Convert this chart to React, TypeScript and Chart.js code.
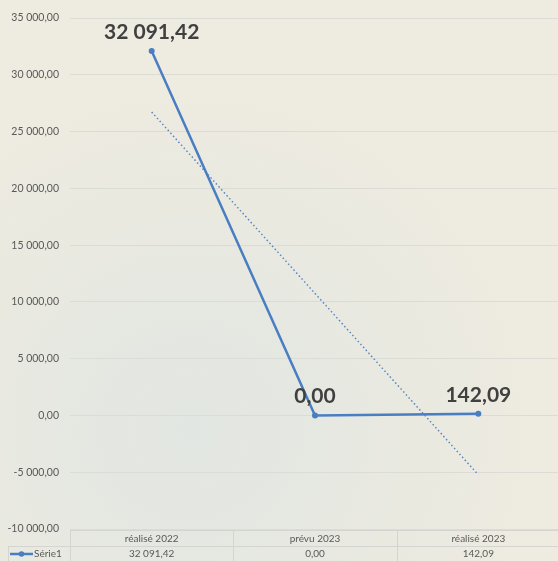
import React, { useEffect, useRef } from "react";
import { Chart, registerables } from "chart.js";
Chart.register(...registerables);

const categories = ["réalisé 2022", "prévu 2023", "réalisé 2023"];
const serieName = "Série1";
const serieValues = [32091.42, 0, 142.09];
const yMin = -10000;
const yMax = 35000;
const yStep = 5000;

const FONT = "Lato, 'DejaVu Sans', sans-serif";
const BLUE = "#4A7EC2";

function fmt(v: number): string {
  const neg = v < 0;
  const s = Math.abs(v).toFixed(2);
  const [i, d] = s.split(".");
  const ii = i.replace(/\B(?=(\d{3})+(?!\d))/g, " ");
  return (neg ? "-" : "") + ii + "," + d;
}

function linearTrend(values: number[]): number[] {
  const n = values.length;
  const xs = values.map((_, i) => i);
  const mx = xs.reduce((a, b) => a + b, 0) / n;
  const my = values.reduce((a, b) => a + b, 0) / n;
  let num = 0;
  let den = 0;
  for (let i = 0; i < n; i++) {
    num += (xs[i] - mx) * (values[i] - my);
    den += (xs[i] - mx) * (xs[i] - mx);
  }
  const b = num / den;
  const a = my - b * mx;
  return xs.map((x) => a + b * x);
}

const labelPlugin = {
  id: "valueLabels",
  afterDatasetsDraw(chart: any) {
    const ctx = chart.ctx;
    const meta = chart.getDatasetMeta(0);
    ctx.save();
    ctx.font = `bold 21px ${FONT}`;
    ctx.fillStyle = "#404040";
    ctx.textAlign = "center";
    ctx.textBaseline = "alphabetic";
    meta.data.forEach((pt: any, i: number) => {
      ctx.fillText(fmt(serieValues[i]), pt.x, pt.y - 12);
    });
    ctx.restore();
  },
};

const tablePlugin = {
  id: "dataTable",
  afterDraw(chart: any) {
    const ctx = chart.ctx;
    const { left, right } = chart.chartArea;
    const top = 530;
    const mid = 546;
    const bot = 562;
    const n = categories.length;
    const w = (right - left) / n;
    ctx.save();
    ctx.strokeStyle = "#D4D4D0";
    ctx.lineWidth = 1;
    ctx.beginPath();
    ctx.moveTo(left, top + 0.5);
    ctx.lineTo(right, top + 0.5);
    ctx.moveTo(8, mid + 0.5);
    ctx.lineTo(right, mid + 0.5);
    ctx.moveTo(8.5, mid);
    ctx.lineTo(8.5, bot);
    for (let i = 0; i <= n; i++) {
      const x = Math.round(left + i * w) + 0.5;
      ctx.moveTo(x, top);
      ctx.lineTo(x, bot);
    }
    ctx.stroke();

    ctx.font = `10px ${FONT}`;
    ctx.fillStyle = "#595959";
    ctx.textAlign = "center";
    ctx.textBaseline = "middle";
    for (let i = 0; i < n; i++) {
      const cx = left + (i + 0.5) * w;
      ctx.fillText(categories[i], cx, (top + mid) / 2 + 1);
      ctx.fillText(fmt(serieValues[i]), cx, (mid + bot) / 2);
    }
    // legend key
    const ly = (mid + bot) / 2;
    ctx.strokeStyle = BLUE;
    ctx.lineWidth = 2.5;
    ctx.beginPath();
    ctx.moveTo(10, ly);
    ctx.lineTo(33, ly);
    ctx.stroke();
    ctx.fillStyle = BLUE;
    ctx.beginPath();
    ctx.arc(21.5, ly, 2.8, 0, Math.PI * 2);
    ctx.fill();
    ctx.fillStyle = "#595959";
    ctx.textAlign = "left";
    ctx.fillText(serieName, 34, ly);
    ctx.restore();
  },
};

export default function App() {
  const ref = useRef<HTMLCanvasElement | null>(null);
  useEffect(() => {
    if (!ref.current) return;
    const chart = new Chart(ref.current, {
      type: "line",
      data: {
        labels: categories,
        datasets: [
          {
            label: serieName,
            data: serieValues,
            borderColor: BLUE,
            backgroundColor: BLUE,
            borderWidth: 2.5,
            pointRadius: 3,
            pointBackgroundColor: BLUE,
            pointBorderWidth: 0,
            tension: 0,
          },
          {
            label: "Tendance",
            data: linearTrend(serieValues),
            borderColor: "#5B86C6",
            borderWidth: 1.5,
            borderDash: [1.5, 2.5],
            pointRadius: 0,
            tension: 0,
          },
        ],
      },
      plugins: [labelPlugin, tablePlugin],
      options: {
        responsive: false,
        animation: false,
        layout: { padding: { top: 18, bottom: 32, left: 0, right: 0 } },
        plugins: {
          legend: { display: false },
          tooltip: { enabled: false },
          title: { display: false },
        },
        scales: {
          x: {
            type: "category",
            offset: true,
            display: false,
          },
          y: {
            min: yMin,
            max: yMax,
            afterFit(scale: any) {
              scale.width = 70;
            },
            ticks: {
              stepSize: yStep,
              padding: 11,
              color: "#595959",
              font: { family: FONT, size: 10.5 },
              callback: (v: any) => fmt(Number(v)),
            },
            grid: { color: "#DCDCD6", lineWidth: 1, drawTicks: false },
            border: { display: false },
          },
        },
      },
    });
    return () => chart.destroy();
  }, []);
  return (
    <div
      style={{
        position: "absolute",
        left: 0,
        top: 0,
        width: 558,
        height: 561,
        overflow: "hidden",
        background:
          "radial-gradient(circle at 190px 430px, #E2E6E2 0%, #E6E8E1 25%, #EEEBE0 60%)",
      }}
    >
      <canvas ref={ref} width={564} height={561} style={{ display: "block" }} />
    </div>
  );
}
